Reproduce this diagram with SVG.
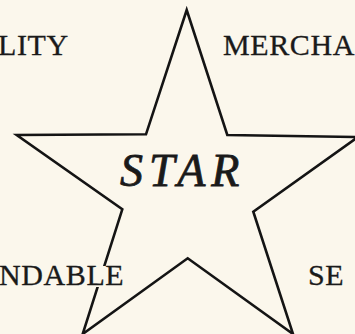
<svg xmlns="http://www.w3.org/2000/svg" width="355" height="334" viewBox="0 0 355 334">
<style>
.bg{fill:#fbf7ec}
.star{fill:none;stroke:#141414;stroke-width:2.6;stroke-linejoin:miter}
.lbl{font-family:"Liberation Serif","Times New Roman",serif;font-size:30px;letter-spacing:0.6px;fill:#1a1a1a;stroke:#1a1a1a;stroke-width:0.3}
.title{font-family:"Liberation Serif","Times New Roman",serif;font-size:46px;font-style:italic;letter-spacing:6px;fill:#1a1a1a;stroke:#1a1a1a;stroke-width:0.8}
</style>
<rect class="bg" x="0" y="0" width="355" height="334"/>
<g id="connectors">
<polygon id="star" class="star" points="186.7,10 227.3,135 358,137 253.3,211.7 293,334 187.7,258.3 82.7,334 122.3,209.3 16.7,135 146,134.3"/>
</g>
<g id="node-star-label"><text class="title" x="120" y="186">STAR</text></g>
<g id="node-top-left"><text class="lbl" x="-2" y="55">LITY</text></g>
<g id="node-top-right"><text class="lbl" x="223" y="55">MERCHA</text></g>
<g id="node-bottom-left"><rect class="bg" x="90" y="266" width="22" height="21"/><text class="lbl" x="-1" y="285">NDABLE</text></g>
<g id="node-bottom-right"><text class="lbl" x="308" y="285">SE</text></g>
</svg>
